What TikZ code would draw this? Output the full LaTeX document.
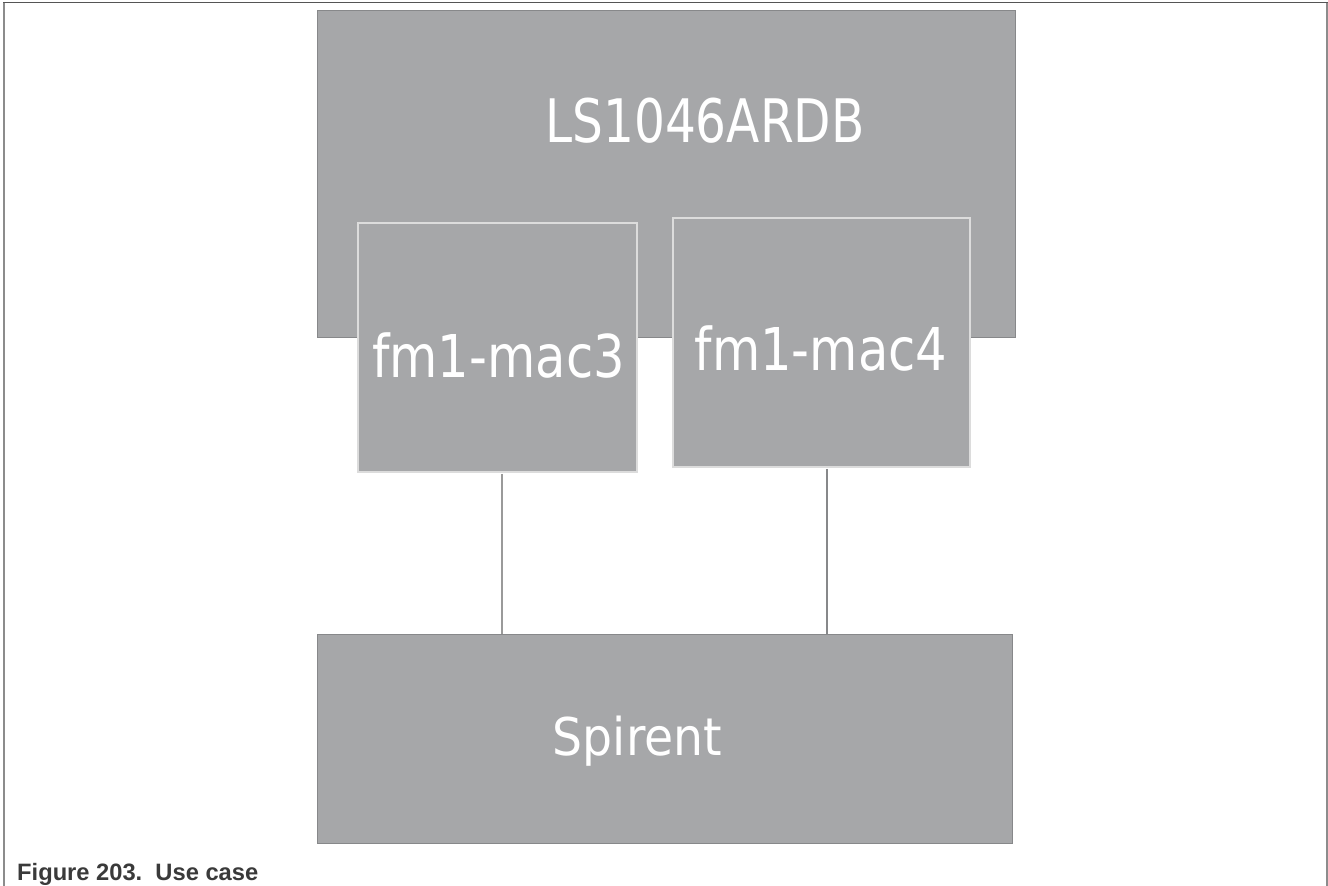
\documentclass[tikz,border=0pt]{standalone}
\usepackage{fontspec}
\usepackage{graphicx}
\newfontfamily\dvfont{DejaVu Sans}
\newfontfamily\capfont{Liberation Sans}
\definecolor{boxgray}{HTML}{A6A7A9}
\definecolor{edgedark}{HTML}{87888A}
\definecolor{edgelight}{HTML}{DCDCDC}
\definecolor{framegray}{HTML}{8C8C8C}
\definecolor{frametop}{HTML}{555555}
\definecolor{wiregray}{HTML}{9A9A9A}
\definecolor{capgray}{HTML}{3A3A3A}
\tikzset{
  bigbox/.style={rectangle, fill=boxgray, draw=edgedark, line width=1pt, inner sep=0pt},
  portbox/.style={rectangle, fill=boxgray, draw=edgelight, line width=1.5pt, inner sep=0pt},
  lbl/.style={text=white, inner sep=0pt, anchor=base},
  wire/.style={draw=wiregray}
}
\begin{document}
\begin{tikzpicture}[x=1pt,y=-1pt]
\useasboundingbox (0,0) rectangle (1328,886);
\fill[white] (0,0) rectangle (1328,886);
% frame
\draw[framegray, line width=1.5pt] (4,886) -- (4,2.5);
\draw[framegray, line width=1.5pt] (1327,886) -- (1327,2.5);
\draw[frametop, line width=1.5pt] (3.3,2.5) -- (1327.7,2.5);
% board
\node[bigbox, minimum width=698pt, minimum height=327pt] (board) at (666,173.5) {};
\node[lbl] (boardlbl) at (705,142) {\dvfont\fontsize{60}{60}\selectfont\scalebox{0.81}[1]{LS1046ARDB}};
% ports
\node[portbox, minimum width=279pt, minimum height=249pt] (mac3) at (497.5,347.5) {};
\node[lbl] (mac3lbl) at (498.5,377) {\dvfont\fontsize{59}{59}\selectfont\scalebox{0.84}[1]{fm1-mac3}};
\node[portbox, minimum width=297pt, minimum height=249pt] (mac4) at (821.5,342.5) {};
\node[lbl] (mac4lbl) at (821,370) {\dvfont\fontsize{59}{59}\selectfont\scalebox{0.84}[1]{fm1-mac4}};
% spirent
\node[bigbox, minimum width=695pt, minimum height=209pt] (spirent) at (664.5,738.5) {};
\node[lbl] (spirentlbl) at (637.5,755) {\dvfont\fontsize{52}{52}\selectfont\scalebox{0.91}[1]{Spirent}};
% wires
\draw[wire, line width=2.5pt] ([xshift=4.5pt,yshift=-1pt]mac3.south) -- ([xshift=4.5pt]mac3.south |- spirent.north);
\draw[wire, line width=1.5pt, draw=edgedark] ([xshift=5.5pt,yshift=-1pt]mac4.south) -- ([xshift=5.5pt]mac4.south |- spirent.north);
% caption
\node[anchor=base west, inner sep=0pt, text=capgray] (caption) at (17,880) {\capfont\bfseries\fontsize{23.7}{24}\selectfont Figure 203.\ \ Use case};
\end{tikzpicture}
\end{document}
